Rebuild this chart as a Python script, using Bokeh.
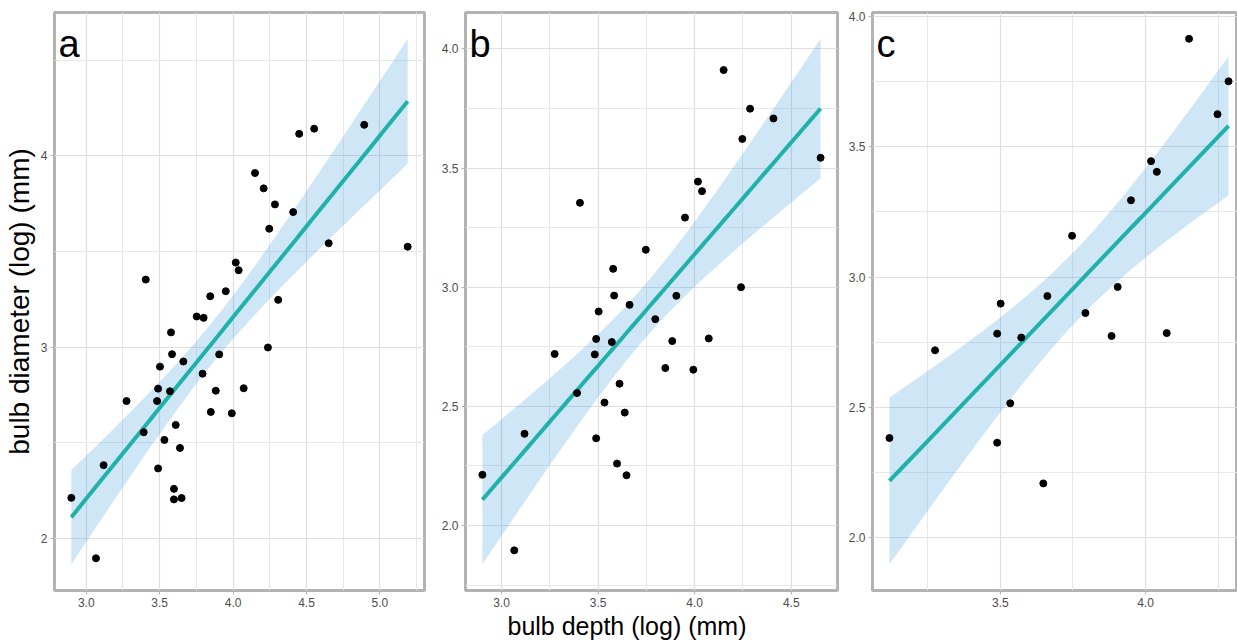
import math
import numpy as np
from bokeh.plotting import figure
from bokeh.layouts import row
from bokeh.models import FixedTicker, Title, Range1d
from bokeh.core.properties import value
from bokeh.embed import file_html
from bokeh.resources import INLINE

FONT = "Liberation Sans"

# ---------------- data ----------------
a_depth = [3.405, 3.752, 3.799, 3.844, 3.950, 4.018, 4.038, 4.149, 4.208, 4.285,
           4.246, 4.409, 4.450, 4.552, 4.651, 4.893, 5.189, 4.307, 3.577, 3.584,
           3.661, 3.502, 3.905, 4.237, 3.792, 3.489, 3.570, 3.882, 4.072, 3.274,
           3.482, 3.848, 3.991, 3.391, 3.609, 3.532, 3.638, 3.118, 3.489, 3.597,
           2.898, 3.597, 3.649, 3.066]
a_diam = [3.353, 3.160, 3.153, 3.266, 3.292, 3.442, 3.402, 3.910, 3.830, 3.746,
          3.619, 3.706, 4.115, 4.142, 3.543, 4.162, 3.525, 3.247, 3.077, 2.963,
          2.925, 2.898, 2.962, 2.998, 2.861, 2.783, 2.769, 2.772, 2.785, 2.718,
          2.718, 2.661, 2.654, 2.555, 2.593, 2.515, 2.473, 2.383, 2.366, 2.259,
          2.212, 2.204, 2.211, 1.896]

b_depth = [3.406, 4.150, 4.287, 4.408, 4.247, 4.652, 4.017, 4.038, 3.950, 3.747,
           3.578, 3.583, 3.663, 3.503, 3.905, 4.240, 3.796, 3.490, 3.571, 3.884,
           4.073, 3.275, 3.483, 3.848, 3.993, 3.611, 3.391, 3.533, 3.638, 3.119,
           3.490, 3.598, 2.901, 3.647, 3.066]
b_diam = [3.354, 3.911, 3.749, 3.708, 3.622, 3.543, 3.443, 3.403, 3.292, 3.157,
          3.077, 2.965, 2.926, 2.898, 2.964, 3.000, 2.866, 2.783, 2.770, 2.774,
          2.785, 2.720, 2.718, 2.661, 2.654, 2.595, 2.556, 2.516, 2.474, 2.385,
          2.366, 2.260, 2.213, 2.211, 1.896]

c_depth = [4.150, 4.286, 4.248, 4.019, 4.039, 3.950, 3.747, 3.501, 3.662, 3.904,
           3.793, 3.489, 3.572, 3.883, 4.073, 3.275, 3.534, 3.118, 3.489, 3.648]
c_diam = [3.913, 3.750, 3.624, 3.444, 3.403, 3.294, 3.158, 2.898, 2.927, 2.962,
          2.862, 2.783, 2.768, 2.774, 2.785, 2.719, 2.516, 2.383, 2.365, 2.209]

a_xticks = [3.0, 3.5, 4.0, 4.5, 5.0]
a_xlabels = ["3.0", "3.5", "4.0", "4.5", "5.0"]
a_xminor = [2.75, 3.25, 3.75, 4.25, 4.75, 5.25]
a_yticks = [2, 3, 4]
a_ylabels = ["2", "3", "4"]
a_yminor = [1.5, 2.5, 3.5, 4.5]

b_xticks = [3.0, 3.5, 4.0, 4.5]
b_xlabels = ["3.0", "3.5", "4.0", "4.5"]
b_xminor = [2.75, 3.25, 3.75, 4.25, 4.75]
b_yticks = [2.0, 2.5, 3.0, 3.5, 4.0]
b_ylabels = ["2.0", "2.5", "3.0", "3.5", "4.0"]
b_yminor = [1.75, 2.25, 2.75, 3.25, 3.75, 4.25]

c_xticks = [3.5, 4.0]
c_xlabels = ["3.5", "4.0"]
c_xminor = [3.25, 3.75, 4.25]
c_yticks = [2.0, 2.5, 3.0, 3.5, 4.0]
c_ylabels = ["2.0", "2.5", "3.0", "3.5", "4.0"]
c_yminor = [1.75, 2.25, 2.75, 3.25, 3.75]

panel_letters = ["a", "b", "c"]
x_title = "bulb depth (log) (mm)"
y_title = "bulb diameter (log) (mm)"


# ---------------- linear fit with 95% confidence band ----------------
def t975(df):
    c = math.gamma((df + 1) / 2) / (math.sqrt(df * math.pi) * math.gamma(df / 2))
    ts = np.linspace(0, 6, 60001)
    pdf = c * (1 + ts ** 2 / df) ** (-(df + 1) / 2)
    cdf = np.concatenate([[0.0], np.cumsum((pdf[1:] + pdf[:-1]) / 2 * np.diff(ts))])
    return float(np.interp(0.475, cdf, ts))


def smooth(x, y, n=80):
    x = np.asarray(x, float)
    y = np.asarray(y, float)
    b1, b0 = np.polyfit(x, y, 1)
    dof = len(x) - 2
    s2 = ((y - (b0 + b1 * x)) ** 2).sum() / dof
    xbar = x.mean()
    sxx = ((x - xbar) ** 2).sum()
    xs = np.linspace(x.min(), x.max(), n)
    fit = b0 + b1 * xs
    se = np.sqrt(s2 * (1 / len(x) + (xs - xbar) ** 2 / sxx))
    t = t975(dof)
    return xs, fit, fit - t * se, fit + t * se


def rng(vals, pad=0.05):
    lo, hi = min(vals), max(vals)
    d = (hi - lo) * pad
    return lo - d, hi + d


H = 640


def panel(x, y, letter, xt, xl, xmin, yt, yl, ymin, width, left, right, xr=None):
    xs, fit, lo, hi = smooth(x, y)
    if xr is None:
        xr = rng(list(x))
    yr = rng(list(y) + list(lo) + list(hi))
    p = figure(width=width, height=H, x_range=Range1d(*xr), y_range=Range1d(*yr),
               output_backend="svg", toolbar_location=None,
               min_border_left=left, min_border_right=right,
               min_border_top=12, min_border_bottom=50)
    p.background_fill_color = "white"
    p.border_fill_color = "white"
    p.outline_line_color = "#b3b3b3"
    p.outline_line_width = 3

    p.varea(x=xs, y1=lo, y2=hi, fill_color="#3f9bdf", fill_alpha=0.25)
    p.line(xs, fit, line_color="#20b2aa", line_width=4)
    p.scatter(x, y, size=7, fill_color="black", line_color="black")
    p.text(x=[xr[0]], y=[yr[1]], text=[letter], text_font=value(FONT),
           text_font_size="38px", text_baseline="alphabetic", text_align="left",
           x_offset=4, y_offset=31, text_color="black")

    p.xaxis.ticker = FixedTicker(ticks=xt, minor_ticks=xmin)
    p.yaxis.ticker = FixedTicker(ticks=yt, minor_ticks=ymin)
    p.xaxis.major_label_overrides = {float(k): v for k, v in zip(xt, xl)}
    p.yaxis.major_label_overrides = {float(k): v for k, v in zip(yt, yl)}
    for ax in (p.xaxis, p.yaxis):
        ax.axis_line_color = None
        ax.major_tick_line_color = "#b3b3b3"
        ax.major_tick_out = 4
        ax.major_tick_in = 0
        ax.minor_tick_line_color = None
        ax.major_label_text_color = "#4d4d4d"
        ax.major_label_text_font = FONT
        ax.major_label_text_font_size = "12px"
        ax.major_label_standoff = 3
    for g in (p.xgrid, p.ygrid):
        g.grid_line_color = "#dedede"
        g.grid_line_width = 1.2
        g.minor_grid_line_color = "#e8e8e8"
        g.minor_grid_line_width = 1
    return p


pa = panel(a_depth, a_diam, panel_letters[0], a_xticks, a_xlabels, a_xminor,
           a_yticks, a_ylabels, a_yminor, width=430, left=53, right=6)
pa.yaxis.axis_label = y_title
pa.yaxis.axis_label_text_font = FONT
pa.yaxis.axis_label_text_font_size = "28px"
pa.yaxis.axis_label_text_font_style = "normal"
pa.yaxis.axis_label_text_color = "black"
pa.yaxis.axis_label_standoff = 3

pb = panel(b_depth, b_diam, panel_letters[1], b_xticks, b_xlabels, b_xminor,
           b_yticks, b_ylabels, b_yminor, width=410, left=35, right=3)
pb.add_layout(Title(text=x_title, align="left", offset=42, standoff=0,
                    text_font=FONT, text_font_size="25px",
                    text_font_style="normal", text_color="black"), "below")

c_lo, c_hi = rng(c_depth)
pc = panel(c_depth, c_diam, panel_letters[2], c_xticks, c_xlabels, c_xminor,
           c_yticks, c_ylabels, c_yminor, width=397, left=32, right=0,
           xr=(c_lo, c_lo + (c_hi - c_lo) * 365 / 373))

layout = row(pa, pb, pc)
open("out.html", "w").write(file_html(layout, INLINE))
